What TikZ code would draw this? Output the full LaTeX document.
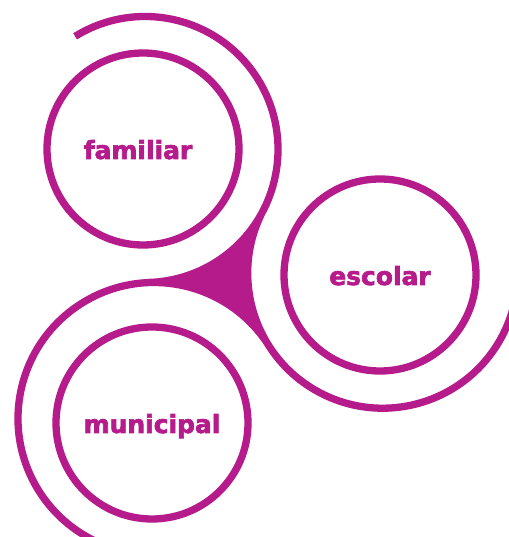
\documentclass[tikz,border=0pt]{standalone}
\usepackage{fontspec}
\newfontfamily\ringfont{DejaVu Sans}[BoldFeatures={FakeBold=2.5}]
\definecolor{ringmag}{RGB}{181,27,139}
\begin{document}
\begin{tikzpicture}[line width=0.146cm,
  ring/.style={circle,draw=ringmag,minimum size=3.84cm,inner sep=0pt,
    text=ringmag,text height=0.4cm,text depth=0pt,
    font=\ringfont\bfseries\fontsize{14.2}{17}\selectfont},
  swirl/.style={draw=ringmag}]

\useasboundingbox (0,0) rectangle (10.16,10.74);

\coordinate (fo) at (2.90,7.75);
\coordinate (eo) at (7.654,5.276);
\coordinate (mo) at (3.08,2.37);

% filled middle piece
\fill [ringmag] (fo) -- (eo) -- (mo) -- cycle;
\fill [white] (fo) circle (2.66) (eo) circle (2.70) (mo) circle (2.72);

\path [swirl]
    (fo) ++(121.7:2.66) arc [start angle=121.7,end angle=-88.09,radius=2.66]
    (eo) ++(152.5:2.70) arc [start angle=152.5,end angle=360,radius=2.70]
    (mo) ++(32.4:2.72) arc [start angle=32.4,end angle=245,radius=2.72]
;

\node [ring] (fam) at (2.86,7.76) {familiar\kern0.2cm};
\node [ring] (esc) at (7.60,5.24) {escolar};
\node [ring] (mun) at (3.04,2.28) {municipal};

\end{tikzpicture}
\end{document}
